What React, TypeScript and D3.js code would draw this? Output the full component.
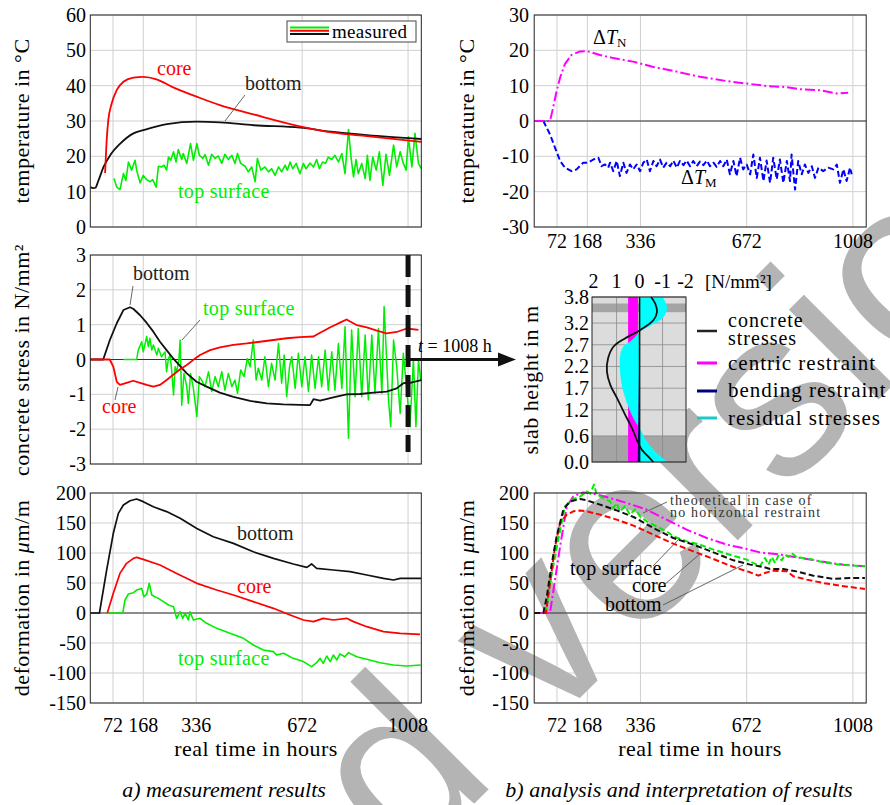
import React from 'react';
import * as d3 from 'd3';

type Pt = [number, number];

const FONT = "'Liberation Serif', 'DejaVu Serif', 'Times New Roman', serif";
const RED = '#ff0000';
const GREEN = '#00ee00';
const MAGENTA = '#ff00ff';
const BLUE = '#0000ff';
const CYAN = '#00ffff';
const NAVY = '#00007a';
const GRID = '#d0d0d0';

// ---------- ticks ----------
const timeTicks = [72, 168, 336, 672, 1008];
const tempTicks = [0, 10, 20, 30, 40, 50, 60];
const stressTicks = [-3, -2, -1, 0, 1, 2, 3];
const deformTicks = [-150, -100, -50, 0, 50, 100, 150, 200];
const dTTicks = [-30, -20, -10, 0, 10, 20, 30];
const heightTicks = [0.0, 0.6, 1.2, 1.7, 2.2, 2.7, 3.2, 3.8];
const profileTicks = [2, 1, 0, -1, -2];

// ---------- a) temperature (°C) ----------
const tempBottom: Pt[] = [[0,11.3],[10,11.0],[16,11.1],[26,13.2],[42,17],[63,20.3],[95,23.6],[137,26.5],[169,27.4],[243,29.1],[338,29.8],[412,29.6],[518,28.8],[666,28.1],[772,26.9],[878,26],[1050,24.9]];
const tempCore: Pt[] = [[47,15.3],[52,24.6],[57,30.2],[68,35],[84,38.8],[105,41.1],[137,42.3],[168,42.5],[210,41.8],[263,39.5],[337,36.9],[411,34.5],[517,31.9],[665,28.5],[771,26.7],[877,25.7],[1050,24.1]];
const tempTop: Pt[] = [[75,13.7],[84,11.3],[94,10.6],[105,15.1],[113,13.2],[121,18.4],[131,16.1],[142,18.9],[147,16.1],[158,12.5],[168,14.6],[179,13.4],[189,12.8],[198,13.4],[209,11.3],[216,17.2],[226,17.0],[234,17.5],[242,16.1],[248,19.8],[255,18.9],[264,21.3],[272,18.4],[279,21.9],[290,19.1],[295,20.8],[306,18.0],[318,23.6],[327,18.9],[338,23.6],[346,20.3],[357,19.4],[364,20.5],[375,17.5],[385,20.6],[396,19.4],[406,20.1],[417,18.0],[427,20.6],[438,19.1],[449,20.3],[459,18.0],[467,20.8],[477,18.0],[491,17.2],[501,15.6],[512,17.0],[523,12.8],[530,19.4],[541,16.1],[554,17.0],[565,15.6],[575,16.5],[586,14.6],[597,17.0],[607,15.6],[618,17.5],[625,16.1],[634,18.4],[642,16.5],[653,18.0],[665,15.1],[676,18.0],[684,16.5],[697,18.1],[708,17.0],[718,19.1],[727,16.5],[737,18.4],[746,18.0],[755,19.8],[766,19.1],[776,20.3],[787,18.4],[798,20.8],[808,15.1],[819,27.6],[827,19.8],[835,14.2],[843,19.1],[850,15.1],[861,18.0],[872,13.7],[879,20.3],[887,13.2],[896,19.8],[907,16.1],[917,21.3],[928,11.8],[938,20.6],[949,14.6],[962,23.2],[972,17.0],[983,21.3],[993,18.0],[1002,16.1],[1009,25.5],[1020,17.0],[1030,26.5],[1041,18.0],[1050,16.5]];

// ---------- a) concrete stress (N/mm²) ----------
const stressBottom: Pt[] = [[0,0],[41,0],[62,0.56],[84,1.04],[105,1.42],[126,1.5],[137,1.45],[158,1.27],[179,1.05],[200,0.8],[221,0.51],[242,0.27],[263,0.03],[285,-0.19],[306,-0.4],[337,-0.64],[369,-0.78],[411,-0.95],[454,-1.07],[507,-1.19],[560,-1.26],[612,-1.29],[665,-1.3],[697,-1.31],[708,-1.14],[729,-1.18],[771,-1.09],[813,-1.0],[856,-0.99],[898,-0.95],[940,-0.92],[972,-0.83],[993,-0.68],[1020,-0.66],[1050,-0.59]];
const stressCore: Pt[] = [[0,0],[62,0],[73,-0.21],[84,-0.64],[94,-0.73],[115,-0.67],[136,-0.61],[158,-0.67],[179,-0.73],[200,-0.78],[221,-0.73],[242,-0.59],[263,-0.44],[285,-0.28],[306,-0.16],[327,-0.01],[348,0.13],[380,0.27],[411,0.35],[454,0.42],[496,0.46],[538,0.51],[581,0.56],[623,0.61],[665,0.64],[708,0.66],[729,0.77],[760,0.92],[792,1.06],[813,1.15],[824,1.09],[845,0.99],[877,0.92],[909,0.83],[940,0.75],[972,0.79],[1004,0.89],[1041,0.85]];
const stressTop: Pt[] = [[105,0],[147,0],[152,0.27],[163,0.51],[168,0.22],[179,0.66],[184,0.37],[189,0.61],[195,0.27],[200,0.42],[211,0.13],[216,0.32],[226,0.08],[237,0.22],[242,-0.35],[248,0.03],[253,0.13],[258,-0.30],[264,-1.02],[269,-0.21],[274,-0.35],[281,-0.01],[285,0.56],[290,-1.31],[297,-0.40],[306,-0.78],[311,-1.26],[318,-0.40],[327,-0.83],[338,-1.64],[346,-0.49],[353,-0.59],[364,-0.78],[375,-0.35],[385,-0.92],[396,-0.49],[406,-0.78],[417,-0.35],[427,-0.88],[438,-0.40],[449,-0.78],[459,-0.59],[467,-0.97],[477,-0.30],[488,-0.49],[498,0.03],[507,-0.21],[517,0.56],[526,-0.59],[533,-0.25],[544,-0.59],[554,0.08],[565,-0.78],[575,-0.11],[586,-0.59],[597,0.46],[607,-0.68],[615,0.13],[623,-1.07],[632,-0.21],[639,0.08],[650,-0.83],[660,0.18],[671,-0.78],[681,0.08],[692,-0.92],[702,0.13],[713,-0.83],[724,0.08],[734,-0.78],[745,0.27],[755,-0.88],[766,0.22],[776,-0.88],[787,0.46],[798,-0.83],[808,0.94],[819,-2.26],[829,0.85],[840,-1.07],[850,0.89],[861,-1.07],[872,0.70],[882,-1.16],[893,0.70],[903,-0.97],[914,0.89],[925,-0.97],[932,1.52],[946,-1.16],[953,-1.93],[962,0.56],[972,-0.21],[983,-1.55],[993,0.18],[1004,-0.88],[1014,-1.93],[1025,-0.01],[1033,-1.93],[1041,-0.01],[1048,-0.59]];

// ---------- a) deformation (µm/m) ----------
const defBottom: Pt[] = [[0,0],[29,0],[52,71.7],[73,132.8],[89,166],[105,180],[126,187],[147,190],[168,185.6],[200,177],[242,169],[285,157.8],[338,141],[390,127],[454,116],[517,102],[581,91],[644,81.7],[687,76],[702,81.7],[718,74.4],[771,71.7],[824,69],[877,63.3],[930,57.8],[962,55],[983,57.8],[1050,57.8]];
const defCore: Pt[] = [[54,0],[73,32.8],[94,66],[115,82.8],[137,91],[147,92.8],[168,89.4],[221,80],[274,66],[338,49.4],[401,38.3],[454,30],[517,18.9],[581,7.8],[634,-3.3],[676,-11.7],[708,-14.4],[739,-8.9],[771,-11.7],[813,-8.9],[835,-14.4],[877,-22.8],[930,-31.1],[983,-33.9],[1046,-35.6]];
const defTop: Pt[] = [[54,0],[103,0],[110,21.7],[121,31.7],[137,33.9],[147,38.3],[163,41],[170,27.2],[179,31.7],[187,49.4],[195,30],[205,27.2],[216,24.4],[232,18.9],[248,13.3],[264,10.6],[274,-8.9],[285,2.2],[293,-8.9],[301,-0.6],[311,-11.7],[316,2.2],[327,-11.7],[348,-8.9],[369,-17.2],[401,-25.6],[443,-33.9],[486,-42.2],[517,-53.3],[549,-61.7],[581,-64.4],[591,-70],[613,-67.2],[644,-75.6],[676,-81],[702,-89.4],[718,-82.8],[729,-75.6],[739,-83.9],[750,-71.7],[761,-81.1],[771,-70],[782,-78.3],[792,-68.3],[808,-72.8],[819,-66],[845,-72.8],[877,-77.2],[919,-82.8],[962,-86.7],[1004,-88.3],[1048,-86.7]];

// ---------- b) temperature components (°C) ----------
const dTN: Pt[] = [[0,0],[50,0],[60,3.8],[71,8.5],[82,12.3],[97,16.1],[118,18.7],[145,19.7],[166,19.8],[208,18.7],[250,17.8],[313,16.8],[377,15.3],[440,14.2],[524,12.5],[609,11.3],[672,10.6],[735,9.9],[798,9.6],[841,9.0],[904,8.7],[957,7.8],[993,8.0]];
const dTM: Pt[] = [[0,0],[29,0],[50,-3.8],[66,-7.6],[82,-11.3],[97,-13.2],[118,-14.2],[134,-13.7],[155,-11.8],[171,-11.8],[187,-10.9],[203,-10.4],[213,-12.8],[224,-12.3],[234,-13.2],[240,-11.8],[250,-14.2],[261,-11.3],[271,-15.6],[282,-11.8],[292,-14.7],[303,-12.3],[313,-13.7],[324,-12.3],[335,-14.2],[345,-11.8],[356,-10.9],[366,-14.2],[377,-11.3],[387,-12.8],[398,-10.9],[408,-13.2],[419,-11.8],[430,-12.8],[440,-11.2],[451,-13.2],[461,-11.3],[472,-12.5],[482,-11.2],[493,-12.8],[503,-11.3],[514,-12.8],[524,-11.5],[535,-12.5],[546,-11.2],[556,-12.8],[567,-11.8],[577,-13.0],[588,-11.3],[598,-12.8],[609,-10.9],[619,-15.1],[630,-11.3],[640,-15.6],[651,-10.4],[661,-13.7],[672,-12.3],[683,-15.1],[693,-9.5],[704,-16.1],[714,-10.4],[725,-17.0],[735,-11.2],[746,-17.5],[756,-10.4],[767,-16.5],[777,-10.9],[788,-17.5],[799,-11.3],[809,-17.0],[814,-9.5],[825,-19.4],[835,-11.3],[846,-15.1],[856,-12.3],[867,-14.7],[878,-12.8],[888,-16.1],[899,-13.2],[914,-14.2],[930,-13.2],[946,-13.7],[957,-12.3],[967,-17.5],[978,-13.7],[988,-17.0],[999,-13.2],[1004,-15.1]];

// ---------- b) stress profile at t = 1008 h ----------
const profileConcrete: Pt[] = [[0,-0.6],[0.12,-0.39],[0.28,-0.1],[0.5,0.11],[0.78,0.33],[1.08,0.62],[1.47,0.98],[1.77,1.27],[2.08,1.42],[2.39,1.37],[2.66,1.13],[2.85,0.62],[3.04,-0.03],[3.27,-0.61],[3.46,-0.76],[3.65,-0.68],[3.8,-0.5]];
const profileResidual: Pt[] = [[0,-1.19],[0.24,-0.68],[0.47,-0.32],[0.78,0.0],[0.93,0.19],[1.16,0.4],[1.47,0.62],[1.77,0.77],[2.16,0.86],[2.47,0.84],[2.66,0.7],[2.81,0.33],[3.0,-0.03],[3.16,-0.54],[3.3,-0.97],[3.5,-1.19],[3.65,-1.15],[3.8,-1.0]];
const profileCentric = 0.5;
const profileBending: Pt[] = [[0,0.08],[3.0,0],[3.8,0]];
const weakZones: Pt[] = [[0,0.6],[3.45,3.65]];

// ---------- b) deformation (µm/m) ----------
const dBottom: Pt[] = [[0,0],[29,0],[40,27.8],[55,80.6],[71,127.8],[92,172],[113,186],[145,190],[166,187.8],[208,180.6],[261,171],[314,160],[377,141.7],[440,125],[503,114],[567,101],[630,87.8],[683,80.6],[725,76.7],[746,73.3],[788,73.3],[830,69.4],[883,62.2],[946,56.7],[999,58.3],[1046,58.3]];
const dCore: Pt[] = [[0,0],[37,0],[66,111],[82,150],[103,164],[124,169.4],[145,171],[166,169.4],[208,164],[261,155.6],[314,145.6],[377,130.6],[440,115.6],[503,102.8],[567,90],[630,76.7],[683,67.8],[709,62.2],[730,66.7],[756,70.6],[799,69.4],[820,61.1],[862,55.6],[914,50],[967,45.6],[1046,40]];
const dTop: Pt[] = [[37,0],[50,50],[76,122],[97,177.8],[119,188.9],[145,194],[166,202.8],[177,199],[189,213.9],[198,197],[219,191.7],[240,186],[250,175],[261,183],[271,169.4],[287,178],[303,163.9],[319,173],[335,161],[356,152.8],[387,144.4],[419,136],[440,127.8],[482,119.4],[524,113.9],[567,105.6],[619,97.2],[672,88.9],[714,77.8],[730,91.7],[741,80.6],[751,93.3],[762,83.3],[772,95.6],[783,87.8],[793,97.2],[804,93.3],[814,100],[830,93.3],[872,90],[914,84.4],[967,80.6],[1046,77.8]];
const dTheory: Pt[] = [[0,0],[50,0],[66,55.6],[82,111],[103,177.8],[124,194.4],[155,201],[187,199],[229,193.3],[293,183.3],[356,172.2],[419,155.6],[482,138.9],[546,125],[609,114],[672,106.7],[714,101],[756,98.9],[799,95.6],[862,90],[925,84.4],[978,80.6],[1046,77.8]];

// ---------- scales ----------
const xL = d3.scaleLinear().domain([0, 1050]).range([90.3, 421.3]);
const xR = d3.scaleLinear().domain([0, 1050]).range([534.2, 866.2]);
const yTemp = d3.scaleLinear().domain([0, 60]).range([227, 15]);
const yStress = d3.scaleLinear().domain([-3, 3]).range([464, 255]);
const yDefL = d3.scaleLinear().domain([-150, 200]).range([703, 493]);
const yDT = d3.scaleLinear().domain([-30, 30]).range([227, 15]);
const yDefR = d3.scaleLinear().domain([-150, 200]).range([703, 493]);
const xP = d3.scaleLinear().domain([2.07, -2.02]).range([592, 686]);
const yP = d3.scaleLinear().domain([0, 3.8]).range([462, 297]);

function pathOf(x: any, y: any, data: Pt[], curve: any = d3.curveLinear) {
  return d3.line<Pt>().x(d => x(d[0])).y(d => y(d[1])).curve(curve)(data) || '';
}

function Series(p: { x: any; y: any; data: Pt[]; color: string; width?: number; dash?: string; curve?: any }) {
  return (
    <path d={pathOf(p.x, p.y, p.data, p.curve)} fill="none" stroke={p.color}
      strokeWidth={p.width ?? 1.7} strokeDasharray={p.dash} strokeLinejoin="round" strokeLinecap="butt" />
  );
}

function Grid(p: { x: any; y: any; yTicks: number[] }) {
  const [x0, x1] = p.x.range();
  const [yb, yt] = p.y.range();
  return (
    <g>
      {p.yTicks.map(t => (
        <line key={'h' + t} x1={x0} x2={x1} y1={p.y(t)} y2={p.y(t)} stroke={GRID} strokeWidth={1} />
      ))}
      {timeTicks.map(t => (
        <line key={'v' + t} x1={p.x(t)} x2={p.x(t)} y1={yb} y2={yt} stroke={GRID} strokeWidth={1} />
      ))}
    </g>
  );
}

function Panel(p: { x: any; y: any; yTicks: number[]; yLabelX: number; xLabelY?: number; zero?: boolean; children?: any }) {
  const [x0, x1] = p.x.range();
  const [yb, yt] = p.y.range();
  return (
    <g>
      {p.zero && <line x1={x0} x2={x1} y1={p.y(0)} y2={p.y(0)} stroke="#333" strokeWidth={1} />}
      {p.children}
      <rect x={x0} y={yt} width={x1 - x0} height={yb - yt} fill="none" stroke="#222" strokeWidth={1} />
      {p.yTicks.map(t => (
        <text key={'yl' + t} x={p.yLabelX} y={p.y(t)} dy="0.35em" textAnchor="end" fontSize={20}>{String(t)}</text>
      ))}
      {p.xLabelY !== undefined && timeTicks.map(t => (
        <text key={'xl' + t} x={p.x(t)} y={p.xLabelY} textAnchor="middle" fontSize={20}>{String(t)}</text>
      ))}
    </g>
  );
}

function YTitle(p: { x: number; y: number; children: any }) {
  return (
    <text transform={`translate(${p.x},${p.y}) rotate(-90)`} textAnchor="middle" fontSize={22} letterSpacing={0.5}>
      {p.children}
    </text>
  );
}

function Leader(p: { a: Pt; b: Pt }) {
  return <line x1={p.a[0]} y1={p.a[1]} x2={p.b[0]} y2={p.b[1]} stroke="#555" strokeWidth={0.9} />;
}

export default function App() {
  const residualArea = d3.area<Pt>()
    .y(d => yP(d[0])).x0(xP(0)).x1(d => xP(d[1]))
    .curve(d3.curveCatmullRom.alpha(0.5))(profileResidual) || '';
  const concretePath = d3.line<Pt>().y(d => yP(d[0])).x(d => xP(d[1]))
    .curve(d3.curveCatmullRom.alpha(0.5))(profileConcrete) || '';
  const bendingPath = d3.line<Pt>().y(d => yP(d[0])).x(d => xP(d[1]))([[0, 0], ...profileBending, [3.8, 0]] as Pt[]) || '';
  const [px0, px1] = xP.range();
  const [pyb, pyt] = yP.range();

  return (
    <svg width={890} height={805} viewBox="0 0 890 805"
      style={{ position: 'absolute', left: 0, top: 0, background: '#fff', fontFamily: FONT }}>
      <rect x={0} y={0} width={890} height={805} fill="#fff" />

      {/* grids (under the watermark) */}
      <Grid x={xL} y={yTemp} yTicks={tempTicks} />
      <Grid x={xL} y={yStress} yTicks={stressTicks} />
      <Grid x={xL} y={yDefL} yTicks={deformTicks} />
      <Grid x={xR} y={yDT} yTicks={dTTicks} />
      <Grid x={xR} y={yDefR} yTicks={deformTicks} />

      {/* watermark */}
      <text transform="translate(-208,1486) rotate(-45)" x={0} y={0}
        style={{ fontFamily: "'Liberation Sans', Arial, sans-serif" }}
        fontSize={240} fill="#b4b4b4">Accepted version</text>

      {/* ===== a) temperature ===== */}
      <Panel x={xL} y={yTemp} yTicks={tempTicks} yLabelX={86}>
        <Series x={xL} y={yTemp} data={tempTop} color={GREEN} width={1.6} />
        <Series x={xL} y={yTemp} data={tempBottom} color="#111" width={1.8} curve={d3.curveMonotoneX} />
        <Series x={xL} y={yTemp} data={tempCore} color={RED} width={1.8} curve={d3.curveMonotoneX} />
      </Panel>
      <text x={157} y={75} fill={RED} fontSize={20}>core</text>
      <text x={245} y={90} fill="#222" fontSize={20}>bottom</text>
      <Leader a={[245, 95]} b={[225, 121]} />
      <text x={178} y={198} fill={GREEN} fontSize={20} letterSpacing={0.3}>top surface</text>
      <g>
        <rect x={287} y={21} width={129} height={21} fill="#fff" stroke="#444" strokeWidth={1} />
        <line x1={290} x2={329} y1={27.5} y2={27.5} stroke={GREEN} strokeWidth={2} />
        <line x1={290} x2={329} y1={30.8} y2={30.8} stroke={RED} strokeWidth={2} />
        <line x1={290} x2={329} y1={34} y2={34} stroke="#111" strokeWidth={2} />
        <text x={332} y={37.5} fontSize={19} letterSpacing={0.3}>measured</text>
      </g>
      <YTitle x={29} y={121}>temperature in °C</YTitle>

      {/* ===== a) stress ===== */}
      <Panel x={xL} y={yStress} yTicks={stressTicks} yLabelX={86} zero>
        <Series x={xL} y={yStress} data={stressTop} color={GREEN} width={1.5} />
        <Series x={xL} y={yStress} data={stressBottom} color="#111" width={1.8} />
        <Series x={xL} y={yStress} data={stressCore} color={RED} width={1.8} />
        <line x1={xL(1008)} x2={xL(1008)} y1={255} y2={452} stroke="#111" strokeWidth={5} strokeDasharray="22,8" />
      </Panel>
      <text x={133} y={280} fill="#222" fontSize={20}>bottom</text>
      <Leader a={[133, 286]} b={[130, 305]} />
      <text x={203} y={315} fill={GREEN} fontSize={20} letterSpacing={0.3}>top surface</text>
      <Leader a={[200, 320]} b={[182, 340]} />
      <text x={102} y={413} fill={RED} fontSize={20}>core</text>
      <Leader a={[118, 387]} b={[115, 400]} />
      <YTitle x={29} y={360}>concrete stress in N/mm²</YTitle>
      {/* arrow t = 1008 h */}
      <line x1={xL(1008)} x2={502} y1={yStress(0)} y2={yStress(0)} stroke="#111" strokeWidth={3} />
      <polygon points={`498,${yStress(0) - 7} 516,${yStress(0)} 498,${yStress(0) + 7}`} fill="#111" />
      <text x={418} y={352} fontSize={18}><tspan fontStyle="italic">t</tspan> = 1008 h</text>

      {/* ===== a) deformation ===== */}
      <Panel x={xL} y={yDefL} yTicks={deformTicks} yLabelX={86} xLabelY={732} zero>
        <Series x={xL} y={yDefL} data={defTop} color={GREEN} width={1.6} />
        <Series x={xL} y={yDefL} data={defCore} color={RED} width={1.7} />
        <Series x={xL} y={yDefL} data={defBottom} color="#111" width={1.7} />
      </Panel>
      <text x={237} y={540} fill="#222" fontSize={20}>bottom</text>
      <text x={237} y={593} fill={RED} fontSize={20}>core</text>
      <text x={178} y={665} fill={GREEN} fontSize={20} letterSpacing={0.3}>top surface</text>
      <YTitle x={29} y={598}>deformation in <tspan fontStyle="italic">μ</tspan>m/m</YTitle>
      <text x={256} y={756} textAnchor="middle" fontSize={22} letterSpacing={0.5}>real time in hours</text>

      {/* ===== b) temperature components ===== */}
      <Panel x={xR} y={yDT} yTicks={dTTicks} yLabelX={529} xLabelY={248} zero>
        <Series x={xR} y={yDT} data={dTM} color={BLUE} width={2} dash="6,3" />
        <Series x={xR} y={yDT} data={dTN} color={MAGENTA} width={2} dash="10,3,2,3" />
      </Panel>
      <text x={593} y={44} fontSize={20}>Δ<tspan fontStyle="italic">T</tspan><tspan fontSize={13} dy={3}>N</tspan></text>
      <text x={681} y={184} fontSize={20}>Δ<tspan fontStyle="italic">T</tspan><tspan fontSize={13} dy={3}>M</tspan></text>
      <YTitle x={474} y={121}>temperature in °C</YTitle>

      {/* ===== b) stress profile ===== */}
      <g>
        <rect x={px0} y={pyt} width={px1 - px0} height={pyb - pyt} fill="#dcdcdc" />
        {weakZones.map((z, i) => (
          <rect key={'wz' + i} x={px0} y={yP(z[1])} width={px1 - px0} height={yP(z[0]) - yP(z[1])} fill="#a4a4a4" />
        ))}
        {heightTicks.map(h => (
          <line key={'ph' + h} x1={px0} x2={px1} y1={yP(h)} y2={yP(h)} stroke="#8a8a8a" strokeWidth={0.8} />
        ))}
        {[1, -1].map(v => (
          <line key={'pv' + v} x1={xP(v)} x2={xP(v)} y1={pyb} y2={pyt} stroke="#8a8a8a" strokeWidth={0.8} />
        ))}
        <rect x={xP(profileCentric)} y={pyt} width={xP(0.07) - xP(profileCentric)} height={pyb - pyt} fill={MAGENTA} />
        <path d={residualArea} fill={CYAN} />
        <path d={bendingPath} fill={NAVY} />
        <line x1={xP(0)} x2={xP(0)} y1={pyb} y2={pyt} stroke="#111" strokeWidth={1.6} />
        <path d={concretePath} fill="none" stroke="#111" strokeWidth={1.8} />
        <rect x={px0} y={pyt} width={px1 - px0} height={pyb - pyt} fill="none" stroke="#222" strokeWidth={1} />
        {profileTicks.map(v => (
          <text key={'pt' + v} x={xP(v)} y={288} textAnchor="middle" fontSize={20}>{String(v)}</text>
        ))}
        <text x={705} y={288} fontSize={19}>[N/mm²]</text>
        {heightTicks.map(h => (
          <text key={'py' + h} x={589} y={yP(h)} dy="0.35em" textAnchor="end" fontSize={20}>{h.toFixed(1)}</text>
        ))}
        <YTitle x={538} y={380}>slab height in m</YTitle>
        {/* legend */}
        <line x1={697} x2={717} y1={331} y2={331} stroke="#222" strokeWidth={2.5} />
        <text x={728} y={327} fontSize={20} letterSpacing={1}>concrete</text>
        <text x={728} y={345} fontSize={20} letterSpacing={1}>stresses</text>
        <line x1={697} x2={717} y1={363} y2={363} stroke={MAGENTA} strokeWidth={3} />
        <text x={728} y={370} fontSize={21} letterSpacing={1}>centric restraint</text>
        <line x1={697} x2={717} y1={391} y2={391} stroke={NAVY} strokeWidth={3} />
        <text x={728} y={397} fontSize={21} letterSpacing={1}>bending restraint</text>
        <line x1={697} x2={717} y1={418} y2={418} stroke="#1ec8c8" strokeWidth={3} />
        <text x={728} y={425} fontSize={21} letterSpacing={1}>residual stresses</text>
      </g>

      {/* ===== b) deformation ===== */}
      <Panel x={xR} y={yDefR} yTicks={deformTicks} yLabelX={529} xLabelY={732} zero>
        <Series x={xR} y={yDefR} data={dTheory} color={MAGENTA} width={2} dash="10,3,2,3" />
        <Series x={xR} y={yDefR} data={dTop} color={GREEN} width={2} dash="6,3" />
        <Series x={xR} y={yDefR} data={dCore} color={RED} width={2} dash="6,3" />
        <Series x={xR} y={yDefR} data={dBottom} color="#111" width={2} dash="6,3" />
      </Panel>
      <text x={670} y={505} fontSize={14} letterSpacing={1.2} fill="#333">theoretical in case of</text>
      <text x={670} y={517} fontSize={14} letterSpacing={1.2} fill="#333">no horizontal restraint</text>
      <Leader a={[667, 502]} b={[643, 513]} />
      <text x={570} y={575} fontSize={20} letterSpacing={0.3}>top surface</text>
      <text x={632} y={592} fontSize={20}>core</text>
      <text x={605} y={611} fontSize={20}>bottom</text>
      <Leader a={[653, 566]} b={[680, 538]} />
      <Leader a={[664, 585]} b={[701, 553]} />
      <Leader a={[663, 605]} b={[743, 565]} />
      <YTitle x={474} y={598}>deformation in <tspan fontStyle="italic">μ</tspan>m/m</YTitle>
      <text x={700} y={756} textAnchor="middle" fontSize={22} letterSpacing={0.5}>real time in hours</text>

      {/* captions */}
      <text x={224} y={797} textAnchor="middle" fontSize={22} fontStyle="italic">a) measurement results</text>
      <text x={679} y={797} textAnchor="middle" fontSize={22} fontStyle="italic">b) analysis and interpretation of results</text>
    </svg>
  );
}
